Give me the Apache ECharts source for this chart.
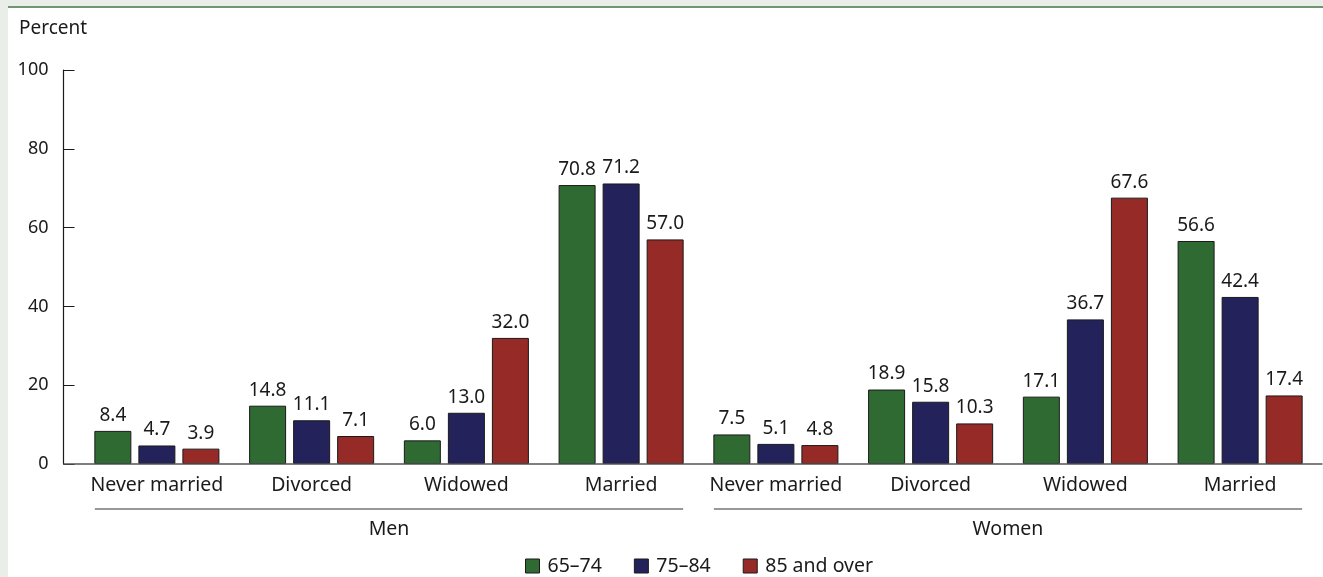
<!DOCTYPE html>
<html>
<head>
<meta charset="utf-8">
<script src="https://cdn.jsdelivr.net/npm/echarts@6/dist/echarts.min.js"></script>
<style>
  html, body { margin: 0; padding: 0; background: #e9eee9; }
  #wrap { position: absolute; left: 8px; top: 6px; right: 0; bottom: 0; background: #fff; border-top: 2px solid #6f9670; }
  #chart { position: absolute; left: -8px; top: -8px; width: 1323px; height: 577px; }
</style>
</head>
<body>
<div id="wrap"><div id="chart"></div></div>
<script>
// Marital status of people aged 65 and over, by sex and age group
const statuses = ['Never married', 'Divorced', 'Widowed', 'Married'];
const groups = ['Men', 'Women'];
const categories = ['Never married', 'Divorced', 'Widowed', 'Married',
                    'Never married ', 'Divorced ', 'Widowed ', 'Married '];
const seriesNames = ['65–74', '75–84', '85 and over'];
const age65to74 = [8.4, 14.8, 6.0, 70.8, 7.5, 18.9, 17.1, 56.6];
const age75to84 = [4.7, 11.1, 13.0, 71.2, 5.1, 15.8, 36.7, 42.4];
const age85plus = [3.9, 7.1, 32.0, 57.0, 4.8, 10.3, 67.6, 17.4];
const yTicks = [0, 20, 40, 60, 80, 100];

const colors = ['#2f6a33', '#23225a', '#962a26'];
const font = '"Noto Sans", "Open Sans", sans-serif';
const textColor = '#1a1a1a';

const chart = echarts.init(document.getElementById('chart'));

function barSeries(name, data, color) {
  return {
    name: name,
    type: 'bar',
    data: data,
    barWidth: 37,
    barGap: '19%',
    itemStyle: { color: color, borderColor: '#1a1a1a', borderWidth: 1 },
    label: {
      show: true, position: 'top', distance: 6,
      formatter: p => p.value.toFixed(1),
      fontFamily: font, fontSize: 19, color: textColor
    }
  };
}

chart.setOption({
  animation: false,
  backgroundColor: 'transparent',
  textStyle: { fontFamily: font },
  title: {
    text: 'Percent', left: 14, top: 14,
    textStyle: { fontFamily: font, fontSize: 19, fontWeight: 'normal', color: textColor }
  },
  legend: {
    bottom: -4, left: 520,
    itemWidth: 14, itemHeight: 14, itemGap: 32,
    icon: 'rect',
    itemStyle: { borderColor: '#1a1a1a', borderWidth: 1 },
    textStyle: { fontFamily: font, fontSize: 19.5, color: textColor, padding: [0, 0, 0, 3] },
    data: seriesNames
  },
  grid: { left: 79.5, right: 5.5, top: 70, bottom: 113, containLabel: false },
  xAxis: [
    {
      type: 'category', data: categories,
      axisLine: { show: false },
      axisTick: { show: false },
      axisLabel: {
        interval: 0, margin: 11, fontFamily: font, fontSize: 19.5, color: textColor,
        formatter: v => v.trim()
      }
    },
    {
      type: 'category', data: groups, position: 'bottom', offset: 47,
      axisLine: { show: false },
      axisTick: { show: false },
      axisLabel: { interval: 0, margin: 8, fontFamily: font, fontSize: 19.5, color: textColor }
    }
  ],
  yAxis: {
    type: 'value', min: 0, max: 100, interval: 20, offset: 16,
    axisLine: { show: true, lineStyle: { color: '#1a1a1a', width: 1.2 } },
    axisTick: { show: true, inside: true, length: 11, lineStyle: { color: '#1a1a1a' } },
    axisLabel: {
      margin: 15, fontFamily: font, fontSize: 18, color: textColor,
      formatter: v => yTicks.includes(v) ? String(v) : ''
    },
    splitLine: { show: false }
  },
  series: [
    barSeries(seriesNames[0], age65to74, colors[0]),
    barSeries(seriesNames[1], age75to84, colors[1]),
    barSeries(seriesNames[2], age85plus, colors[2])
  ]
});

// Baseline and group brackets, positioned from the axes' own scales
function drawFrame() {
  const base = chart.convertToPixel({ yAxisIndex: 0 }, 0);
  const left = chart.convertToPixel({ xAxisIndex: 0 }, categories[0]);
  const right = chart.convertToPixel({ xAxisIndex: 0 }, categories[categories.length - 1]);
  const band = (right - left) / (categories.length - 1);
  const axisX = left - band / 2 - 16;
  const half = 62;
  const bracketY = base + 45;
  const elements = [{
    type: 'line', silent: true, z: 10,
    shape: { x1: axisX, y1: base, x2: right + band / 2 + 5, y2: base },
    style: { stroke: '#555', lineWidth: 1.5 }
  }];
  const perGroup = statuses.length;
  groups.forEach((g, i) => {
    const a = chart.convertToPixel({ xAxisIndex: 0 }, categories[i * perGroup]);
    const b = chart.convertToPixel({ xAxisIndex: 0 }, categories[i * perGroup + perGroup - 1]);
    elements.push({
      type: 'line', silent: true,
      shape: { x1: a - half, y1: bracketY, x2: b + half, y2: bracketY },
      style: { stroke: '#333', lineWidth: 1.2 }
    });
  });
  chart.setOption({ graphic: elements });
}
drawFrame();
</script>
</body>
</html>
